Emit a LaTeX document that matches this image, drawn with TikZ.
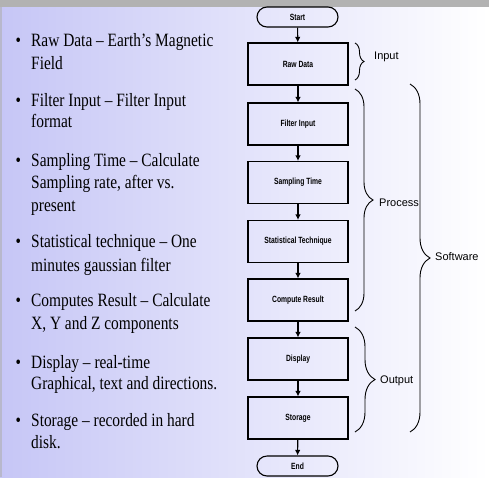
\documentclass[tikz,border=0pt]{standalone}
\usepackage{graphicx}
\usepackage{fontspec}
\setmainfont{Liberation Serif}
\newfontfamily\arialf{Liberation Sans}
\usetikzlibrary{arrows.meta,decorations.pathreplacing,shapes.misc}
\definecolor{bgl}{RGB}{198,198,246}
\definecolor{topbar}{RGB}{178,178,178}
\definecolor{edgec}{RGB}{184,184,204}
\newcommand{\bt}[1]{\scalebox{0.75}[1]{\arialf\bfseries\fontsize{9}{10}\selectfont #1}}
\newcommand{\tl}[1]{\scalebox{1}[1.22]{#1}}
\newcommand{\bl}{\makebox[15.5pt][l]{\textbullet}}
\begin{document}
\begin{tikzpicture}[x=1pt,y=-1pt,
  box/.style={draw, line width=1.1pt, minimum width=100pt, minimum height=42pt, inner sep=0pt},
  term/.style={draw, line width=1.1pt, rounded rectangle, minimum width=81pt, minimum height=20pt, inner sep=0pt},
  arr/.style={line width=1.1pt, -{Latex[length=5.5pt,width=5.5pt]}},
  brc/.style={decorate, line width=0.9pt},
  lab/.style={anchor=west, inner sep=0pt, font=\arialf\fontsize{11}{12}\selectfont},
  itm/.style={anchor=base west, inner sep=0pt, font=\fontsize{15.4}{18}\selectfont}
]
\useasboundingbox (0,0) rectangle (489,477);
\shade[left color=bgl, right color=white] (0,0) rectangle (489,477);
\fill[topbar] (0,0) rectangle (489,7);
\fill[edgec] (0,7) rectangle (2,477);

% flowchart
\node[term] (start) at (297.5,17) {\bt{Start}};
\node[box] (raw) at (298,64) {\bt{Raw Data}};
\node[box] (filt) at (298,124) {\bt{Filter Input}};
\node[box] (samp) at (298,182.5) {\bt{Sampling Time}};
\node[box] (stat) at (298,241.5) {\bt{Statistical Technique}};
\node[box] (comp) at (298,300) {\bt{Compute Result}};
\node[box] (disp) at (298,359) {\bt{Display}};
\node[box] (stor) at (298,418) {\bt{Storage}};
\node[term] (end) at (297.5,466) {\bt{End}};

\draw[arr] (start) -- (raw);
\draw[arr] (raw) -- (filt);
\draw[arr] (filt) -- (samp);
\draw[arr] (samp) -- (stat);
\draw[arr] (stat) -- (comp);
\draw[arr] (comp) -- (disp);
\draw[arr] (disp) -- (stor);
\draw[arr] (stor) -- (end);

% braces
\draw[brc, decoration={brace, amplitude=9pt}] (355,43) -- (355,80);
\draw[brc, decoration={brace, amplitude=18pt}] (355,89) -- (355,311);
\draw[brc, decoration={brace, amplitude=20pt}] (410,84) -- (410,432);
\draw[brc, decoration={brace, amplitude=20pt}] (355,327) -- (355,432);

\node[lab] (linput) at (374,57) {Input};
\node[lab] (lproc) at (379,203) {Process};
\node[lab] (lsoft) at (435,257) {Software};
\node[lab] (lout) at (380,381) {Output};

% bullet text
\node[itm] (t1) at (15.5,46) {\tl{\bl Raw Data – Earth’s Magnetic}};
\node[itm] (t2) at (31,69) {\tl{Field}};
\node[itm] (t3) at (15.5,106) {\tl{\bl Filter Input – Filter Input}};
\node[itm] (t4) at (31,127) {\tl{format}};
\node[itm] (t5) at (15.5,166) {\tl{\bl Sampling Time – Calculate}};
\node[itm] (t6) at (31,188) {\tl{Sampling rate, after vs.}};
\node[itm] (t7) at (31,211) {\tl{present}};
\node[itm] (t8) at (15.5,247) {\tl{\bl Statistical technique – One}};
\node[itm] (t9) at (31,271) {\tl{minutes gaussian filter}};
\node[itm] (t10) at (15.5,306) {\tl{\bl Computes Result – Calculate}};
\node[itm] (t11) at (31,329) {\tl{X, Y and Z components}};
\node[itm] (t12) at (15.5,368) {\tl{\bl Display – real-time}};
\node[itm] (t13) at (31,389) {\tl{Graphical, text and directions.}};
\node[itm] (t14) at (15.5,426) {\tl{\bl Storage – recorded in hard}};
\node[itm] (t15) at (31,448) {\tl{disk.}};
\end{tikzpicture}
\end{document}
